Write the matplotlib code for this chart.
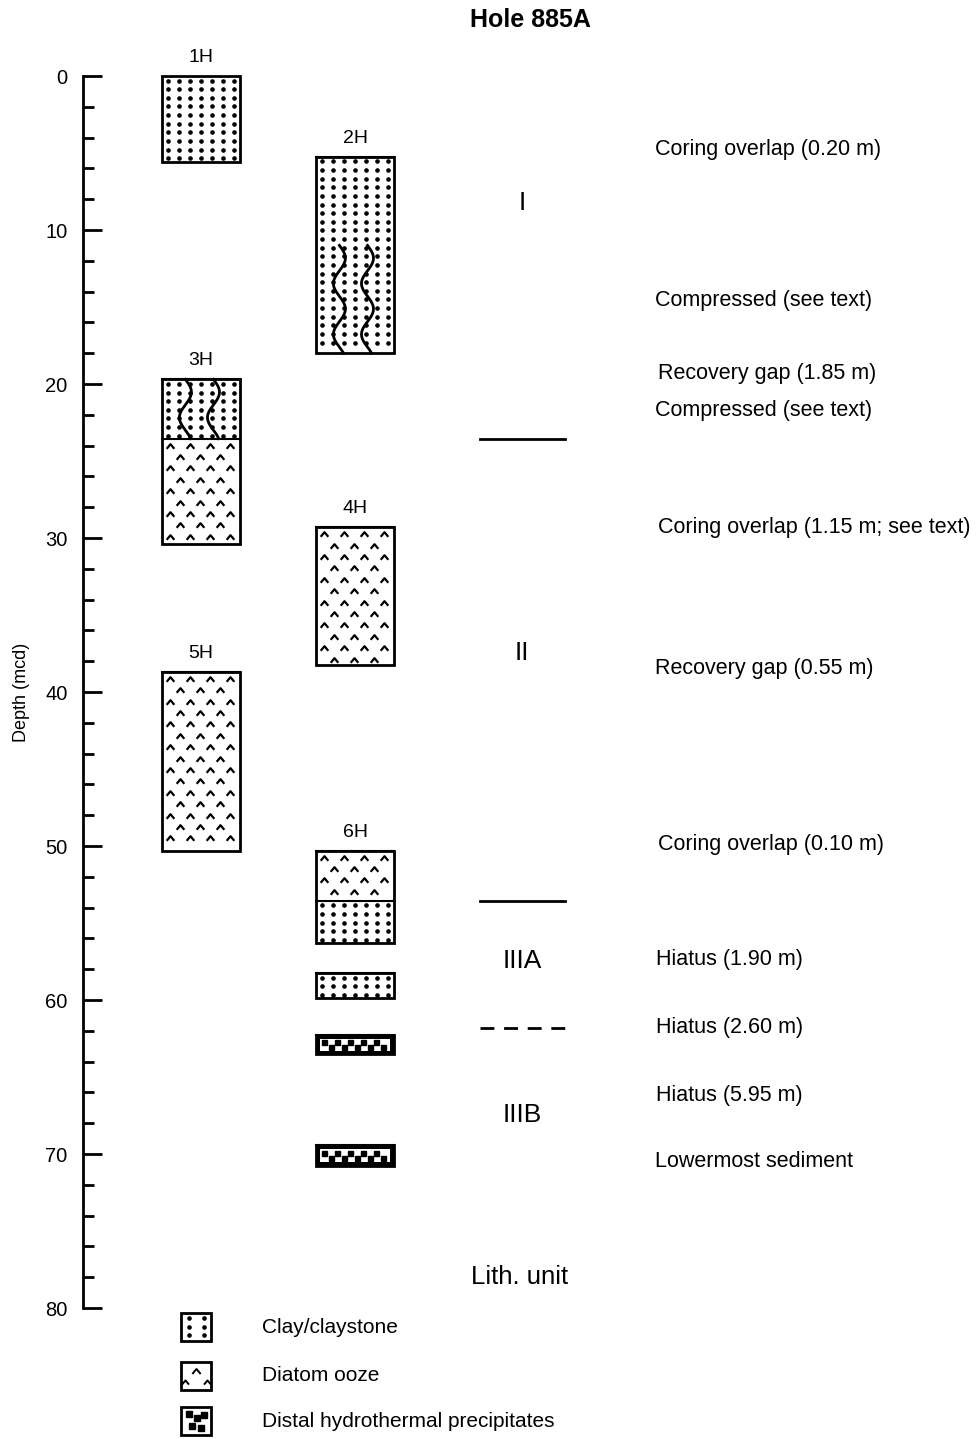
import numpy as np
import matplotlib.pyplot as plt
from matplotlib.patches import Rectangle
from matplotlib.path import Path

plt.rcParams['font.family'] = ['Liberation Sans', 'DejaVu Sans']

# cores (depth in mcd)
core_names = ['1H', '2H', '3H', '4H', '5H', '6H']
core_top = [0.0, 5.25, 19.7, 29.3, 38.7, 50.3]
core_bottom = [5.6, 18.0, 30.4, 38.25, 50.3, 56.3]
core_column = [0, 1, 0, 1, 0, 1]

# lithologic segments inside the cores
seg_top = [0.0, 5.25, 19.7, 23.55, 29.3, 38.7, 50.3, 53.55, 58.25, 62.3, 69.4]
seg_bottom = [5.6, 18.0, 23.55, 30.4, 38.25, 50.3, 53.55, 56.3, 59.85, 63.5, 70.8]
seg_lith = ['clay', 'clay', 'clay', 'diatom', 'diatom', 'diatom', 'diatom',
            'clay', 'clay', 'hydro', 'hydro']
seg_column = [0, 1, 0, 0, 1, 0, 1, 1, 1, 1, 1]
seg_boxed = [False, False, False, False, False, False, False, False, True, True, True]

# compressed intervals (wavy symbol)
comp_top = [11.0, 19.7]
comp_bottom = [18.0, 23.55]
comp_column = [1, 0]

# lithologic units
unit_names = ['I', 'II', 'IIIA', 'IIIB']
unit_label_depth = [8.25, 37.5, 57.5, 67.5]
boundary_depth = [23.6, 53.6, 61.8]
boundary_style = ['-', '-', '--']

# annotations
note_text = ['Coring overlap (0.20 m)', 'Compressed (see text)', 'Recovery gap (1.85 m)',
             'Compressed (see text)', 'Coring overlap (1.15 m; see text)',
             'Recovery gap (0.55 m)', 'Coring overlap (0.10 m)', 'Hiatus (1.90 m)',
             'Hiatus (2.60 m)', 'Hiatus (5.95 m)', 'Lowermost sediment']
note_depth = [4.8, 14.6, 19.35, 21.7, 29.3, 38.45, 49.9, 57.4, 61.8, 66.2, 70.5]
note_x = [655, 655, 658, 655, 658, 655, 658, 656, 656, 656, 655]

legend_lith = ['clay', 'diatom', 'hydro']
legend_text = ['Clay/claystone', 'Diatom ooze', 'Distal hydrothermal precipitates']

col_x = [(162, 240), (316, 394)]

caret = Path([(-1, -0.6), (0, 0.6), (1, -0.6)], [Path.MOVETO, Path.LINETO, Path.LINETO])


def fill_clay(ax, x0, x1, d0, d1, ncol=7):
    step = (x1 - x0) / ncol
    xs = x0 + step * (np.arange(ncol) + 0.5)
    ys = np.arange(d0 + 0.3, d1 - 0.15, 0.56)
    X, Y = np.meshgrid(xs, ys)
    ax.plot(X.ravel(), Y.ravel(), ls='none', marker='o', ms=2.3, color='k', clip_on=False)


def fill_diatom(ax, x0, x1, d0, d1):
    ys = np.arange(d0 + 0.45, d1 - 0.2, 0.74)
    for i, y in enumerate(ys):
        off = 0.0 if i % 2 == 0 else 10.0
        xs = np.arange(x0 + 8.0 + off, x1 - 4.0, 20.0)
        ax.plot(xs, np.full(len(xs), y, dtype=float), ls='none', marker=caret, ms=5.5,
                mfc='none', mec='k', mew=1.6, clip_on=False)


def fill_hydro(ax, x0, x1, d0, d1):
    h = d1 - d0
    ax.add_patch(Rectangle((x0, d0), x1 - x0, h, fc='k', ec='none', clip_on=False))
    ax.add_patch(Rectangle((x0 + 4, d0 + h * 0.2), x1 - x0 - 8, h * 0.62, fc='white',
                           ec='none', clip_on=False))
    xs = np.arange(x0 + 8.0, x1 - 5.0, 6.5)
    for i, x in enumerate(xs):
        y = d0 + h * (0.38 if i % 2 == 0 else 0.62)
        ax.plot(x, y, ls='none', marker='s', ms=3.6, color='k', clip_on=False)


fillers = {'clay': fill_clay, 'diatom': fill_diatom, 'hydro': fill_hydro}

fig = plt.figure(figsize=(9.76, 14.39), dpi=100)
ax = fig.add_axes([83 / 976, 1 - 1308 / 1439, 1 - 83 / 976, (1308 - 76) / 1439])
ax.set_xlim(83, 976)
ax.set_ylim(80, 0)
for s in ['top', 'right', 'bottom']:
    ax.spines[s].set_visible(False)
ax.spines['left'].set_linewidth(2)
ax.set_xticks([])
ax.set_yticks(np.arange(0, 81, 10))
ax.set_yticks(np.arange(0, 81, 2), minor=True)
ax.tick_params(axis='y', which='major', direction='in', length=14, width=2, pad=11, labelsize=14.5)
ax.tick_params(axis='y', which='minor', direction='in', length=8, width=2)
fig.text(22 / 976, 1 - 692 / 1439, 'Depth (mcd)', rotation=90, ha='center', va='center', fontsize=13)
fig.text(530 / 976, 1 - 20 / 1439, 'Hole 885A', ha='center', va='center', fontsize=18, fontweight='bold')

# segments
for t, b, lith, c, boxed in zip(seg_top, seg_bottom, seg_lith, seg_column, seg_boxed):
    x0, x1 = col_x[c]
    fillers[lith](ax, x0, x1, t, b)
    if boxed:
        ax.add_patch(Rectangle((x0, t), x1 - x0, b - t, fc='none', ec='k', lw=2, clip_on=False))
    ax.plot([x0, x1], [t, t], color='k', lw=1.5)

# wavy compression symbols
for t, b, c in zip(comp_top, comp_bottom, comp_column):
    x0, x1 = col_x[c]
    w = x1 - x0
    y = np.linspace(t, b, 200)
    for xc in (x0 + 0.3 * w, x0 + 0.66 * w):
        x = xc + 6 * np.sin(2 * np.pi * (y - t) / 3.3)
        ax.plot(x, y, color='k', lw=2)

# core outlines and names
for name, t, b, c in zip(core_names, core_top, core_bottom, core_column):
    x0, x1 = col_x[c]
    ax.add_patch(Rectangle((x0, t), x1 - x0, b - t, fc='none', ec='k', lw=2, clip_on=False))
    ax.text((x0 + x1) / 2, t - 1.2, name, ha='center', va='center', fontsize=14, clip_on=False)

# lith units
for d, ls in zip(boundary_depth, boundary_style):
    if ls == '--':
        ax.plot([480, 565], [d, d], color='k', lw=2, dashes=(5, 3.5))
    else:
        ax.plot([480, 565], [d, d], color='k', lw=2)
for name, d in zip(unit_names, unit_label_depth):
    ax.text(522, d, name, ha='center', va='center', fontsize=19)
ax.text(520, 78.0, 'Lith. unit', ha='center', va='center', fontsize=18.5)

for txt, d, x in zip(note_text, note_depth, note_x):
    ax.text(x, d, txt, ha='left', va='center', fontsize=15.5)

# legend
leg_top = [80.35, 83.5, 86.45]
for lith, txt, t in zip(legend_lith, legend_text, leg_top):
    x0, x1 = 181, 211
    b = t + 1.8
    if lith == 'clay':
        fill_clay(ax, x0, x1, t, b, ncol=2)
    elif lith == 'diatom':
        ax.plot((x0 + x1) / 2, t + 0.6, ls='none', marker=caret, ms=6, mfc='none', mec='k', mew=1.4, clip_on=False)
        ax.plot([x0 + 4, x1 - 4], [b - 0.5, b - 0.5], ls='none', marker=caret, ms=5, mfc='none', mec='k', mew=1.4, clip_on=False)
    else:
        xs = [x0 + 8, x0 + 16, x0 + 23, x0 + 11, x0 + 20]
        ys = [t + 0.45, t + 0.7, t + 0.5, t + 1.2, t + 1.35]
        ax.plot(xs, ys, ls='none', marker='s', ms=4, color='k', clip_on=False)
    ax.add_patch(Rectangle((x0, t), x1 - x0, b - t, fc='none', ec='k', lw=2, clip_on=False))
    ax.text(262, t + 0.9, txt, ha='left', va='center', fontsize=15, clip_on=False)

fig.savefig('out.png', dpi=100)
